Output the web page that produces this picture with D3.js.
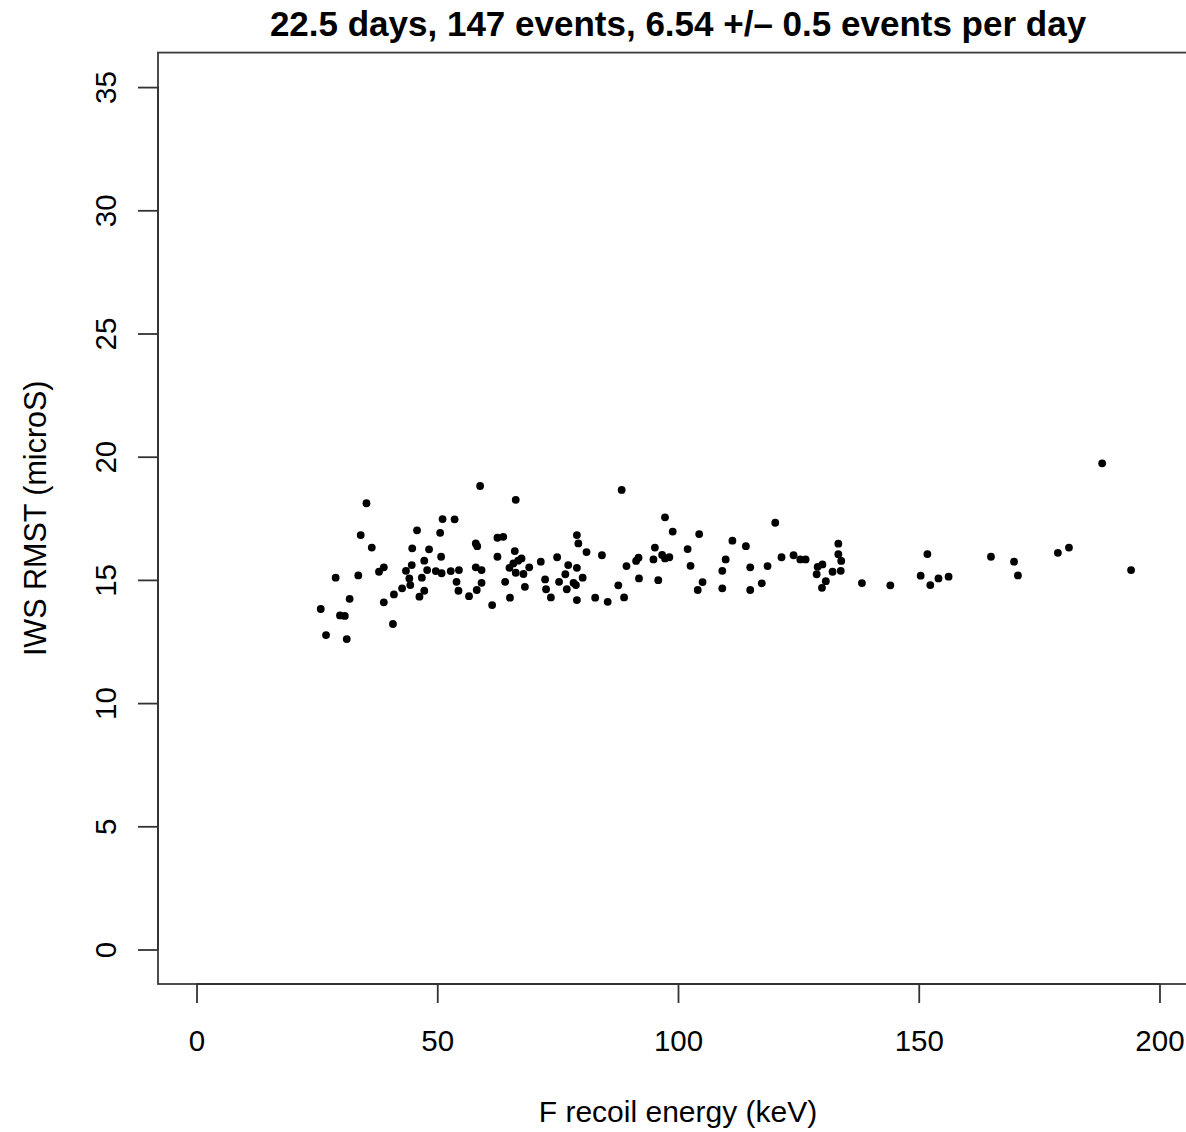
<!DOCTYPE html>
<html>
<head>
<meta charset="utf-8">
<script src="https://cdn.jsdelivr.net/npm/d3@7"></script>
<style>
  body { margin: 0; background: #fff; }
  text { font-family: "Liberation Sans", Arial, sans-serif; fill: #000; }
</style>
</head>
<body>
<svg id="chart"></svg>
<script>
// recoil energy (keV) of each event
var energy = [
  35.3, 51.1, 53.6, 45.8, 50.6, 34.1, 36.4, 44.8, 48.3, 47.3, 50.8, 44.7, 38.9,
  37.9, 43.5, 47.9, 49.7, 50.9, 52.8, 54.5, 28.9, 33.6, 44.2, 46.8, 54.0, 44.4,
  42.7, 47.3, 54.4, 41.0, 46.3, 31.8, 38.9, 25.8, 29.8, 30.8, 40.8, 26.9, 31.2,
  58.9, 66.3, 58.0, 58.3, 62.5, 63.7, 79.0, 79.3, 81.0, 84.2, 66.1, 62.5, 67.5,
  66.8, 71.5, 74.9, 65.8, 58.0, 59.2, 65.0, 69.1, 66.3, 67.9, 77.2, 79.0, 76.6,
  72.4, 75.3, 78.3, 78.8, 80.2, 64.1, 59.2, 68.2, 72.6, 76.9, 58.2, 56.6, 65.1,
  73.6, 79.0, 82.8, 85.4, 61.4,
  88.3, 97.3, 98.9, 104.4, 111.3, 114.1, 95.2, 102.0, 91.8, 91.3, 94.9, 96.7,
  97.3, 98.2, 109.9, 89.3, 102.6, 109.2, 115.0, 118.6, 91.9, 95.9, 87.6, 105.1,
  117.4, 88.8, 104.1, 109.2, 115.0,
  120.2, 121.5, 124.0, 125.4, 126.5, 133.3, 133.3, 133.9, 130.0, 129.0, 128.8,
  132.1, 133.8, 130.7, 129.9, 138.2, 144.1, 150.4, 151.8, 152.4, 154.1,
  188.1, 156.2, 165.0, 169.8, 170.6, 178.9, 181.2, 194.1
];
// IWS RMST (microS) of each event
var rmst = [
  18.11, 17.47, 17.46, 17.01, 16.91, 16.82, 16.31, 16.28, 16.24, 15.78, 15.94, 15.60, 15.51,
  15.33, 15.37, 15.40, 15.36, 15.27, 15.36, 15.40, 15.09, 15.18, 15.06, 15.09, 14.92, 14.79,
  14.66, 14.56, 14.56, 14.41, 14.32, 14.23, 14.09, 13.82, 13.56, 13.54, 13.21, 12.76, 12.60,
  18.81, 18.25, 16.48, 16.37, 16.71, 16.75, 16.82, 16.48, 16.13, 16.00, 16.17, 15.94, 15.87,
  15.78, 15.74, 15.92, 15.67, 15.51, 15.40, 15.49, 15.51, 15.29, 15.24, 15.60, 15.49, 15.23,
  15.02, 14.92, 14.88, 14.79, 15.09, 14.92, 14.88, 14.72, 14.62, 14.62, 14.59, 14.34, 14.28,
  14.29, 14.18, 14.28, 14.11, 13.98,
  18.65, 17.54, 16.96, 16.86, 16.59, 16.37, 16.31, 16.25, 15.90, 15.77, 15.83, 16.01,
  15.87, 15.92, 15.83, 15.56, 15.57, 15.37, 15.51, 15.56, 15.06, 14.99, 14.78, 14.91,
  14.86, 14.29, 14.59, 14.66, 14.59,
  17.32, 15.92, 16.00, 15.83, 15.83, 16.47, 16.04, 15.77, 15.63, 15.53, 15.23,
  15.33, 15.37, 14.95, 14.68, 14.87, 14.78, 15.17, 16.05, 14.79, 15.06,
  19.73, 15.13, 15.94, 15.74, 15.18, 16.10, 16.31, 15.40
];

var xTicks = [0, 50, 100, 150, 200];
var yTicks = [0, 5, 10, 15, 20, 25, 30, 35];
var titleText = "22.5 days, 147 events, 6.54 +/\u2013 0.5 events per day";
var xLabel = "F recoil energy (keV)";
var yLabel = "IWS RMST (microS)";

var width = 1186, height = 1132;
var svg = d3.select("#chart").attr("width", width).attr("height", height);

// R style: axis range = limits extended by 4%
var xlim = [0, 200], ylim = [0, 35];
var xpad = (xlim[1] - xlim[0]) * 0.04, ypad = (ylim[1] - ylim[0]) * 0.04;
var x = d3.scaleLinear().domain([xlim[0] - xpad, xlim[1] + xpad]).range([158, 1198]);
var y = d3.scaleLinear().domain([ylim[0] - ypad, ylim[1] + ypad]).range([984, 52.6]);

// box
svg.append("rect")
  .attr("x", x.range()[0]).attr("y", y.range()[1])
  .attr("width", x.range()[1] - x.range()[0])
  .attr("height", y.range()[0] - y.range()[1])
  .attr("fill", "none").attr("stroke", "#3a3a3a").attr("stroke-width", 1.8);

// x axis
var xAxis = d3.axisBottom(x).tickValues(xTicks).tickSize(19).tickPadding(27)
  .tickFormat(d3.format("d"));
var gx = svg.append("g").attr("transform", "translate(0," + y.range()[0] + ")").call(xAxis);
gx.select(".domain").attr("stroke", "#333").attr("stroke-width", 1.8)
  .attr("d", "M" + x(xlim[0]) + ",0H" + x(xlim[1]));
gx.selectAll(".tick line").attr("stroke", "#333").attr("stroke-width", 1.8);
gx.selectAll(".tick text").attr("font-size", 29.5).attr("font-family", "Liberation Sans, Arial, sans-serif")
  .attr("fill", "#000");

// y axis, labels parallel to the axis
var yAxis = d3.axisLeft(y).tickValues(yTicks).tickSize(20).tickFormat(d3.format("d"));
var gy = svg.append("g").attr("transform", "translate(" + x.range()[0] + ",0)").call(yAxis);
gy.select(".domain").attr("stroke", "#333").attr("stroke-width", 1.8)
  .attr("d", "M0," + y(ylim[0]) + "V" + y(ylim[1]));
gy.selectAll(".tick line").attr("stroke", "#333").attr("stroke-width", 1.8);
gy.selectAll(".tick text")
  .attr("font-size", 29.5).attr("font-family", "Liberation Sans, Arial, sans-serif").attr("fill", "#000")
  .attr("x", null).attr("dy", null)
  .attr("text-anchor", "middle")
  .attr("transform", "translate(-42.5,0) rotate(-90)");

// points
svg.append("g").selectAll("circle")
  .data(energy.map(function (e, i) { return [e, rmst[i]]; }))
  .enter().append("circle")
  .attr("cx", function (d) { return x(d[0]); })
  .attr("cy", function (d) { return y(d[1]); })
  .attr("r", 3.9)
  .attr("fill", "#000");

// titles
var cx = (x.range()[0] + x.range()[1]) / 2;
svg.append("text").attr("x", cx).attr("y", 36)
  .attr("text-anchor", "middle").attr("font-size", 35).attr("font-weight", "bold")
  .text(titleText);
svg.append("text").attr("x", cx).attr("y", 1122)
  .attr("text-anchor", "middle").attr("font-size", 30)
  .text(xLabel);
svg.append("text")
  .attr("transform", "translate(46," + (y.range()[0] + y.range()[1]) / 2 + ") rotate(-90)")
  .attr("text-anchor", "middle").attr("font-size", 30.5)
  .text(yLabel);
</script>
</body>
</html>
